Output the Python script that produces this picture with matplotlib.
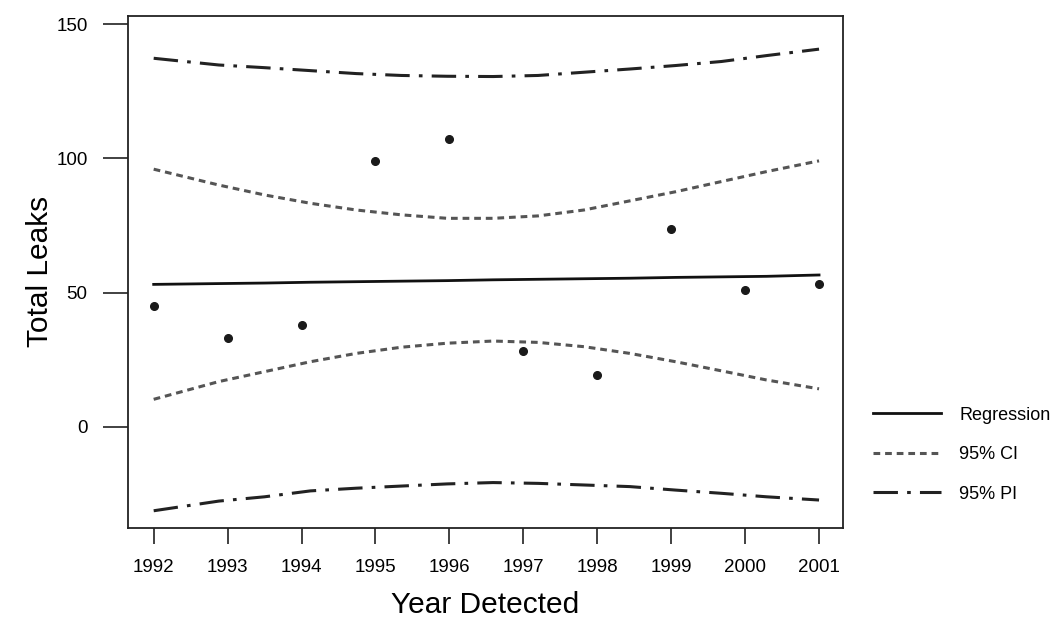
import matplotlib.pyplot as plt

plt.rcParams['font.family'] = ['Liberation Sans', 'DejaVu Sans']

years = [1992, 1993, 1994, 1995, 1996, 1997, 1998, 1999, 2000, 2001]
leaks = [45.1, 33.0, 38.0, 99.2, 107.1, 28.3, 19.3, 73.7, 51.1, 53.1]

# fitted curves at these x positions
curve_x = [1992, 1992.88, 1993.5, 1994.12, 1994.74, 1995.35, 1995.97, 1996.59,
           1997.2, 1997.82, 1998.44, 1999.06, 1999.68, 2000.29, 2001]
reg = [53.1, 53.4, 53.6, 53.9, 54.1, 54.3, 54.5, 54.8,
       55.0, 55.2, 55.4, 55.7, 55.9, 56.1, 56.6]
ci_hi = [96.0, 90.1, 86.4, 83.3, 80.8, 79.0, 77.7, 77.7,
         78.6, 80.8, 84.2, 87.6, 91.4, 95.1, 99.1]
ci_lo = [10.3, 16.9, 20.6, 24.3, 27.4, 29.7, 31.2, 32.0,
         31.5, 29.9, 27.4, 24.3, 20.9, 17.5, 14.2]
pi_hi = [137.3, 134.8, 133.8, 132.7, 131.6, 130.9, 130.6, 130.5,
         130.9, 132.1, 133.3, 134.6, 136.1, 138.3, 140.7]
pi_lo = [-31.2, -27.6, -26.0, -23.8, -22.8, -22.0, -21.2, -20.7,
         -21.0, -21.6, -22.2, -23.5, -24.7, -26.0, -27.2]

fig = plt.figure(figsize=(10.61, 6.23), dpi=100)
ax = fig.add_axes([0.1206, 0.153, 0.674, 0.822])

ax.plot(curve_x, reg, color='#111111', lw=2.0, label='Regression')
ax.plot(curve_x, ci_hi, color='#555555', lw=2.2, dashes=(2.2, 1.6), label='95% CI')
ax.plot(curve_x, ci_lo, color='#555555', lw=2.2, dashes=(2.2, 1.6))
ax.plot(curve_x, pi_hi, color='#222222', lw=2.2, dashes=(8, 3, 1.2, 3), label='95% PI')
ax.plot(curve_x, pi_lo, color='#222222', lw=2.2, dashes=(8, 3, 1.2, 3))
ax.plot(years, leaks, 'o', color='#1a1a1a', ms=5.5, zorder=5)

ax.set_xlim(1991.652, 2001.325)
ax.set_ylim(-37.5, 153.2)
ax.set_xticks(years)
ax.set_yticks([0, 50, 100, 150])

for s in ax.spines.values():
    s.set_linewidth(1.3)
    s.set_color('#222222')

ax.tick_params(axis='y', direction='out', length=18, width=1.3, color='#333333',
               pad=11, labelsize=13.5)
ax.tick_params(axis='x', direction='out', length=11.5, width=1.3, color='#333333',
               pad=11, labelsize=13.5)

ax.set_xlabel('Year Detected', fontsize=21.5, labelpad=11)
ax.set_ylabel('Total Leaks', fontsize=21.5, labelpad=2)

fig.legend(loc='upper left', bbox_to_anchor=(0.814, 0.362), frameon=False,
           fontsize=13, handlelength=3.8, handletextpad=1.0, labelspacing=1.25,
           borderpad=0)

fig.savefig('out.png', dpi=100)
